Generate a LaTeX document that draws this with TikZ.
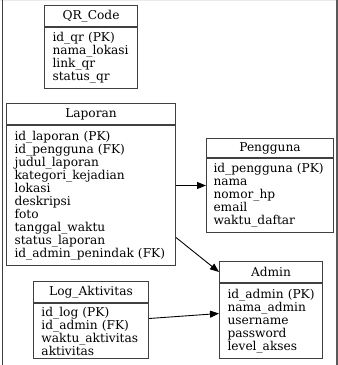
\documentclass[tikz,border=0pt]{standalone}
\usepackage{fontspec}
\setmainfont{DejaVu Serif}
\usetikzlibrary{arrows.meta}
\definecolor{boxc}{HTML}{404040}
\begin{document}
\begin{tikzpicture}[x=1pt,y=-1pt,
 every node/.style={font=\fontsize{12.2}{13}\selectfont, text=black},
 hdr/.style={draw=boxc, line width=1pt, anchor=north west, inner sep=0pt, minimum height=21pt},
 fld/.style={draw=boxc, line width=1pt, anchor=north west, inner xsep=8pt, inner ysep=0pt, align=left},
 arr/.style={draw=black, line width=0.9pt, -{Triangle[length=9pt,width=7pt]}}]
\useasboundingbox (0,0) rectangle (338,365);
\draw[black!8] (0,0.5) -- (338,0.5);
\draw[line width=1.5pt, black!75] (2.5,0) -- (2.5,365);
\draw[line width=1.5pt, black!65] (337,0) -- (337,365);

\node[hdr, minimum width=93pt] (qrh) at (44,5) {QR\_Code};
\node[fld, text width=77pt, minimum height=61pt] (qrf) at (qrh.south west) {\mbox{id\_qr (PK)}\\nama\_lokasi\\link\_qr\\status\_qr};

\node[hdr, minimum width=169pt] (laph) at (6,103) {Laporan};
\node[fld, text width=153pt, minimum height=140pt] (lapf) at (laph.south west) {\mbox{id\_laporan (PK)}\\\mbox{id\_pengguna (FK)}\\judul\_laporan\\kategori\_kejadian\\lokasi\\deskripsi\\foto\\tanggal\_waktu\\status\_laporan\\\mbox{id\_admin\_penindak (FK)}};

\node[hdr, minimum width=127pt, minimum height=19pt] (pengh) at (206,138) {Pengguna};
\node[fld, text width=111pt, minimum height=74pt, inner xsep=7pt, text width=113pt] (pengf) at (pengh.south west) {\mbox{id\_pengguna (PK)}\\nama\\nomor\_hp\\email\\waktu\_daftar};

\node[hdr, minimum width=103pt] (admh) at (219,261) {Admin};
\node[fld, text width=87pt, minimum height=75pt] (admf) at (admh.south west) {\mbox{id\_admin (PK)}\\nama\_admin\\username\\password\\level\_akses};

\node[hdr, minimum width=115pt] (logh) at (33,281) {Log\_Aktivitas};
\node[fld, text width=99pt, minimum height=55pt] (logf) at (logh.south west) {\mbox{id\_log (PK)}\\\mbox{id\_admin (FK)}\\waktu\_aktivitas\\aktivitas};

\draw[arr] ([yshift=10pt]lapf.east) -- ([yshift=10pt]pengf.west);
\draw[arr] ([yshift=-42pt]lapf.east) -- (admh.west);
\draw[arr] ([yshift=12.5pt]logf.east) -- ([yshift=7.5pt]admf.west);
\end{tikzpicture}
\end{document}
